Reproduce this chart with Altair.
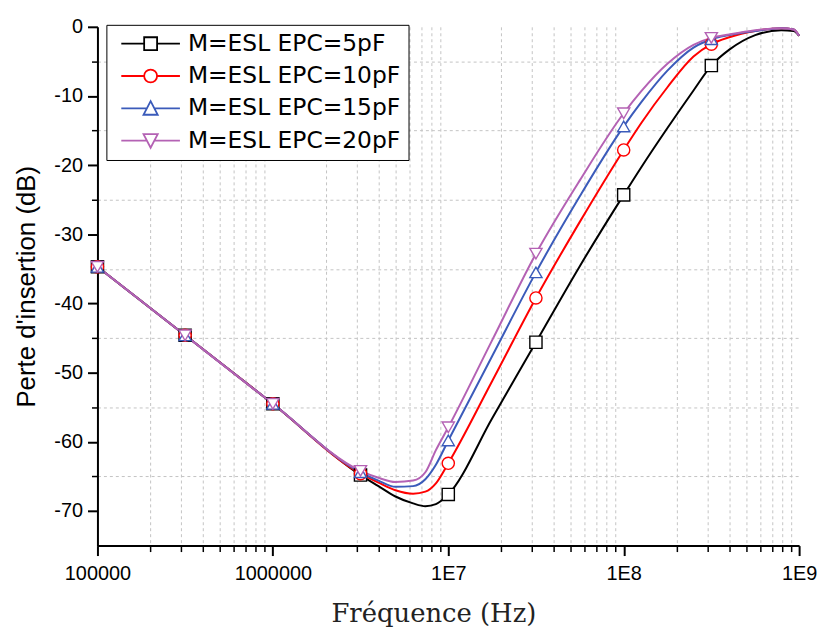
import altair as alt
import pandas as pd

# ---------------- data ----------------
series_names = ["M=ESL EPC=5pF", "M=ESL EPC=10pF", "M=ESL EPC=15pF", "M=ESL EPC=20pF"]
series_colors = ["#000000", "#FF0000", "#3B5BBA", "#B462B4"]
chart_shapes = ["square", "circle", "triangle-up", "triangle-down"]

freq = [1.0e5, 3.16e5, 1.0e6, 3.16e6, 4.0e6, 5.0e6, 6.3e6, 7.4e6, 8.5e6, 1.0e7,
        1.78e7, 3.16e7, 5.62e7, 1.0e8, 1.26e8, 1.78e8, 2.5e8, 3.16e8, 4.0e8,
        5.62e8, 7.9e8, 9.3e8, 1.0e9]

loss_5pf = [-34.7, -44.6, -54.5, -64.8, -66.4, -67.9, -68.9, -69.3, -69.0, -67.6,
            -56.6, -45.6, -34.6, -24.3, -20.3, -14.6, -9.2, -5.6, -3.3,
            -1.2, -0.5, -0.6, -1.3]
loss_10pf = [-34.7, -44.6, -54.5, -64.6, -65.9, -67.0, -67.5, -67.2, -66.0, -63.1,
             -51.2, -39.2, -28.2, -17.8, -13.9, -8.7, -4.3, -2.5, -1.5,
             -0.6, -0.2, -0.4, -1.3]
loss_15pf = [-34.7, -44.6, -54.5, -64.4, -65.6, -66.5, -66.4, -65.4, -63.3, -59.8,
             -47.6, -35.5, -24.5, -14.4, -10.9, -6.3, -3.0, -1.8, -1.2,
             -0.6, -0.2, -0.4, -1.3]
loss_20pf = [-34.7, -44.6, -54.5, -64.2, -65.2, -65.8, -65.6, -64.4, -61.2, -57.9,
             -45.3, -32.8, -22.2, -12.5, -9.3, -5.3, -2.6, -1.6, -1.1,
             -0.5, -0.2, -0.4, -1.3]

marker_freqs = [1.0e5, 3.16e5, 1.0e6, 3.16e6, 1.0e7, 3.16e7, 1.0e8, 3.16e8]

x_major = [1e5, 1e6, 1e7, 1e8, 1e9]
x_minor = [m * 10 ** e for e in range(5, 9) for m in range(2, 10)]
y_major = [0, -10, -20, -30, -40, -50, -60, -70]
y_minor = [-5, -15, -25, -35, -45, -55, -65]

# ---------------- table ----------------
rows = []
for name, vals in zip(series_names, [loss_5pf, loss_10pf, loss_15pf, loss_20pf]):
    for f, v in zip(freq, vals):
        rows.append({"series": name, "freq": f, "loss": v, "marker": f in marker_freqs})
df = pd.DataFrame(rows)

# ---------------- legend symbols (line stub + marker) ----------------
stub_len, left_gap, half_m = 59.0, 6.0, 6.5
W = stub_len + left_gap
u = W / 2.0
def ux(px):
    return round(px / u - 1.0, 4)
xs, xc, xe = ux(left_gap), ux(left_gap + stub_len / 2), ux(W)
hm = round(half_m / u, 4)
ht = round(hm * 0.55, 4)
legend_paths = [
    f"M{xs},0H{xc-hm}M{xc+hm},0H{xe}M{xc-hm},{-hm}H{xc+hm}V{hm}H{xc-hm}Z",
    f"M{xs},0H{xc-hm}M{xc+hm},0H{xe}M{xc-hm},0A{hm},{hm},0,1,0,{xc+hm},0A{hm},{hm},0,1,0,{xc-hm},0Z",
    f"M{xs},0H{xc-ht}M{xc+ht},0H{xe}M{xc},{-hm*1.1}L{xc+hm*1.1},{hm}L{xc-hm*1.1},{hm}Z",
    f"M{xs},0H{xc-ht}M{xc+ht},0H{xe}M{xc},{hm*1.1}L{xc+hm*1.1},{-hm}L{xc-hm*1.1},{-hm}Z",
]

# ---------------- scales & axes ----------------
x_scale = alt.Scale(type="log", domain=[1e5, 1e9], nice=False)
y_scale = alt.Scale(domain=[-75, 0], nice=False, zero=False)
color_scale = alt.Scale(domain=series_names, range=series_colors)

grid_color = "#c4c4c4"

x_minor_axis = alt.Axis(orient="bottom", values=x_minor, labels=False, title=None,
                        tickSize=6, tickWidth=1.5, tickColor="black", domain=False,
                        grid=True, gridColor=grid_color, gridDash=[3, 3], gridWidth=1)
y_minor_axis = alt.Axis(orient="left", values=y_minor, labels=False, title=None,
                        tickSize=6, tickWidth=1.5, tickColor="black", domain=False,
                        grid=True, gridColor=grid_color, gridDash=[3, 3], gridWidth=1)

x_major_axis = alt.Axis(
    orient="bottom", values=x_major,
    labelExpr="datum.value < 5e6 ? format(datum.value, 'd') : '1E' + format(log(datum.value)/LN10, '.0f')",
    labelFont="Liberation Sans", labelFontSize=20, labelColor="black", labelPadding=8,
    labelFlush=False, labelOverlap=False,
    tickSize=10, tickWidth=2, tickColor="black",
    domain=True, domainColor="black", domainWidth=2, grid=False,
    title="Fréquence (Hz)", titleFont="DejaVu Serif", titleFontSize=26,
    titleFontWeight="normal", titleColor="#222222", titleX=338, titleAlign="center",
    titleY=76, titleBaseline="alphabetic",
)
y_major_axis = alt.Axis(
    orient="left", values=y_major, labelExpr="'' + datum.value",
    labelFont="Liberation Sans", labelFontSize=20, labelColor="black", labelPadding=5,
    labelFlush=False, labelOverlap=False,
    tickSize=10, tickWidth=2, tickColor="black",
    domain=True, domainColor="black", domainWidth=2, grid=False,
    title="Perte d'insertion (dB)", titleFont="Liberation Sans", titleFontSize=26,
    titleFontWeight="normal", titleColor="black", titleAngle=270,
    titleX=-71, titleY=261, titleAlign="center", titleBaseline="middle",
)

legend_cfg = alt.Legend(
    orient="none", legendX=9, legendY=-2, title=None,
    symbolSize=W * W, symbolStrokeWidth=1.8, clipHeight=22,
    labelFont="DejaVu Sans", labelFontSize=23.5, labelColor="black", labelOffset=7,
    labelLimit=500, labelExpr="datum.label + '\u00a0\u00a0\u00a0\u00a0'",
    rowPadding=8.5, padding=8, strokeColor="black", fillColor="white",
)

base = alt.Chart(df)

lines = base.mark_line(interpolate="monotone", strokeWidth=2).encode(
    x=alt.X("freq:Q", scale=x_scale, axis=x_minor_axis),
    y=alt.Y("loss:Q", scale=y_scale, axis=y_minor_axis),
    color=alt.Color("series:N", scale=color_scale, legend=None),
)

points = base.transform_filter("datum.marker").mark_point(
    filled=False, fill="white", fillOpacity=1, size=150, strokeWidth=1.4, opacity=1
).encode(
    x=alt.X("freq:Q", scale=x_scale, axis=x_major_axis),
    y=alt.Y("loss:Q", scale=y_scale, axis=y_major_axis),
    color=alt.Color("series:N", scale=color_scale, legend=None),
    shape=alt.Shape("series:N", scale=alt.Scale(domain=series_names, range=chart_shapes), legend=None),
)

legend_layer = base.mark_point(filled=True, fill="white", opacity=0).encode(
    x=alt.X("freq:Q", scale=x_scale, axis=None),
    y=alt.Y("loss:Q", scale=y_scale, axis=None),
    stroke=alt.Stroke("series:N", scale=alt.Scale(domain=series_names, range=series_colors), legend=legend_cfg),
    shape=alt.Shape("series:N", scale=alt.Scale(domain=series_names, range=legend_paths), legend=legend_cfg),
)

chart = alt.layer(lines, points, legend_layer).resolve_scale(
    shape="independent", stroke="independent"
).resolve_axis(
    x="independent", y="independent"
).properties(
    width=706, height=522,
    autosize=alt.AutoSizeParams(type="none"),
    padding={"left": 90, "top": 17, "right": 18, "bottom": 85},
    background="white",
).configure_view(stroke=None)

chart.save("out.html", embed_options={"renderer": "svg", "actions": False})
